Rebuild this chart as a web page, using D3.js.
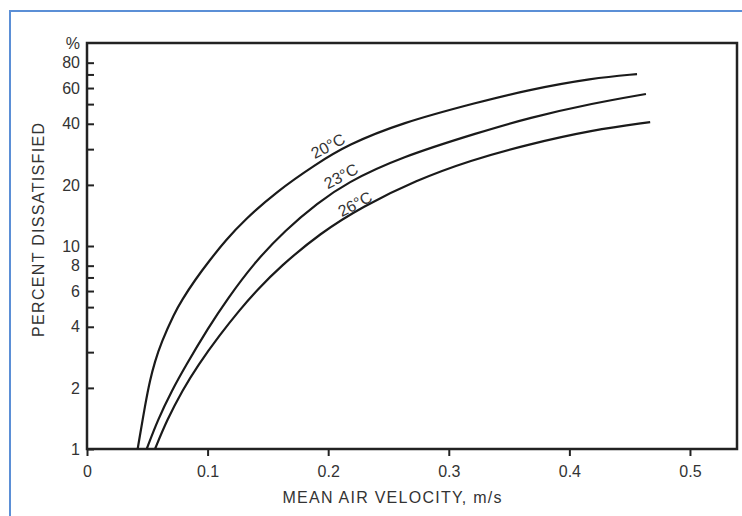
<!DOCTYPE html>
<html>
<head>
<meta charset="utf-8">
<script src="https://cdn.jsdelivr.net/npm/d3@7"></script>
<style>
    body { margin: 0; background: #fff; }
    svg { display: block; font-family: "Liberation Sans", Arial, sans-serif; }
    .axis text { font-size: 16px; fill: #333; }
    .axis path { display: none; }
    .axis line { stroke: #222; stroke-width: 2px; }
</style>
</head>
<body>
<svg width="742" height="516"></svg>
<script>
// Velocidade média do ar (m/s) e percentual de insatisfeitos, por temperatura.
const series = ["20°C", "23°C", "26°C"];
const vel20 = [0.0420, 0.0485, 0.0523, 0.0562, 0.0614, 0.0726, 0.0787, 0.0895, 0.1019, 0.1152, 0.1305, 0.1567, 0.1899, 0.2156, 0.2604, 0.3250, 0.3648, 0.4196, 0.4561];
const pd20  = [1, 1.69, 2.19, 2.68, 3.33, 4.68, 5.42, 6.80, 8.53, 10.7, 13.4, 18.45, 25.3, 31.4, 40.4, 51.2, 58.6, 67.2, 70.3];
const vel23 = [0.0495, 0.0586, 0.0706, 0.0811, 0.1010, 0.1158, 0.1385, 0.1645, 0.1914, 0.2146, 0.2599, 0.3262, 0.3657, 0.4204, 0.4635];
const pd23  = [1, 1.39, 1.95, 2.53, 3.99, 5.42, 8.25, 12.0, 16.3, 20.4, 27.4, 36.4, 42.7, 50.6, 56.1];
const vel26 = [0.0564, 0.0663, 0.0792, 0.0920, 0.1100, 0.1265, 0.1411, 0.1598, 0.1936, 0.2281, 0.2729, 0.3185, 0.3633, 0.4192, 0.4670];
const pd26  = [1, 1.39, 1.95, 2.59, 3.64, 4.84, 6.07, 7.88, 11.6, 15.6, 21.1, 26.5, 31.4, 37.3, 40.8];

// Ticks dos eixos.
const xTicks = [0, 0.1, 0.2, 0.3, 0.4, 0.5];
const yTicks = [1, 2, 3, 4, 5, 6, 7, 8, 10, 20, 30, 40, 50, 60, 70, 80];
const yTickLabels = [1, 2, 4, 6, 8, 10, 20, 40, 60, 80];

// Rótulos das curvas (posição em valores dos dados).
const labelVel = [0.1998, 0.2106, 0.2222];
const labelPd = [31.1, 22.1, 16.1];

const svg = d3.select("svg");

// Moldura azul (só esquerda e topo).
svg.append("path")
    .attr("d", "M10,516 L10,11 L742,11")
    .attr("fill", "none")
    .attr("stroke", "#5b8fd6")
    .attr("stroke-width", 2);

// Dimensões da área do gráfico.
const plotLeft = 87, plotRight = 737, plotTop = 43, plotBottom = 449;

const xScale = d3.scaleLinear()
    .domain([0, 0.539])
    .range([plotLeft, plotRight]);

const yScale = d3.scaleLog()
    .domain([1, 100])
    .range([plotBottom, plotTop]);

// Eixo X.
svg.append("g")
    .attr("class", "axis")
    .attr("transform", `translate(0, ${plotBottom})`)
    .call(d3.axisBottom(xScale)
        .tickValues(xTicks)
        .tickSize(7)
        .tickPadding(10)
        .tickFormat(d => d === 0 ? "0" : d3.format(".1f")(d)));

// Eixo Y (ticks para dentro).
svg.append("g")
    .attr("class", "axis")
    .attr("transform", `translate(${plotLeft}, 0)`)
    .call(d3.axisLeft(yScale)
        .tickValues(yTicks)
        .tickSize(-7)
        .tickPadding(7)
        .tickFormat(d => yTickLabels.includes(d) ? d : ""));

// Caixa do gráfico.
svg.append("rect")
    .attr("x", plotLeft)
    .attr("y", plotTop)
    .attr("width", plotRight - plotLeft)
    .attr("height", plotBottom - plotTop)
    .attr("fill", "none")
    .attr("stroke", "#222")
    .attr("stroke-width", 2.5);

svg.append("text")
    .attr("x", 80)
    .attr("y", plotTop + 6)
    .attr("text-anchor", "end")
    .style("font-size", "16px")
    .style("fill", "#333")
    .text("%");

// Curvas (B-spline suaviza a leitura do gráfico).
const line = d3.line()
    .x(d => xScale(d[0]))
    .y(d => yScale(d[1]))
    .curve(d3.curveBasis);

const curves = [
    d3.zip(vel20, pd20),
    d3.zip(vel23, pd23),
    d3.zip(vel26, pd26)
];

svg.selectAll(".curve")
    .data(curves)
    .enter()
    .append("path")
    .attr("class", "curve")
    .attr("d", line)
    .attr("fill", "none")
    .attr("stroke", "#1a1a1a")
    .attr("stroke-width", 2.2);

svg.selectAll(".curve-label")
    .data(series)
    .enter()
    .append("text")
    .attr("class", "curve-label")
    .attr("transform", (d, i) => `translate(${xScale(labelVel[i])},${yScale(labelPd[i])}) rotate(-28)`)
    .attr("text-anchor", "middle")
    .attr("dy", "0.35em")
    .style("font-size", "16px")
    .style("fill", "#333")
    .text(d => d);

// Títulos dos eixos.
svg.append("text")
    .attr("x", 392)
    .attr("y", 503)
    .attr("text-anchor", "middle")
    .attr("textLength", 219)
    .attr("lengthAdjust", "spacing")
    .style("font-size", "16px")
    .style("fill", "#333")
    .text("MEAN AIR VELOCITY, m/s");

svg.append("text")
    .attr("transform", "translate(44, 230) rotate(-90)")
    .attr("text-anchor", "middle")
    .attr("textLength", 214)
    .attr("lengthAdjust", "spacing")
    .style("font-size", "16px")
    .style("fill", "#333")
    .text("PERCENT DISSATISFIED");
</script>
</body>
</html>
